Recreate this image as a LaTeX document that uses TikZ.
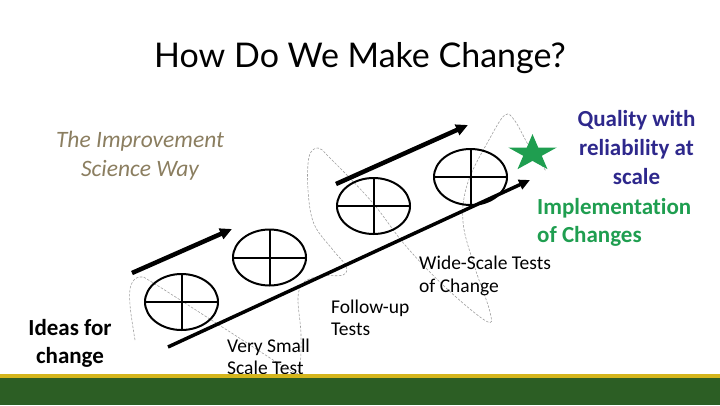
\documentclass[tikz,border=0pt]{standalone}
\usepackage{fontspec}
\setmainfont{Carlito}[Ligatures={NoCommon}]
\newfontfamily\titlefont{Lato}
\usetikzlibrary{shapes.geometric,arrows.meta}
\definecolor{quality}{RGB}{46,40,140}
\definecolor{implement}{RGB}{31,158,80}
\definecolor{taupe}{RGB}{139,126,96}
\definecolor{barGold}{RGB}{212,181,28}
\definecolor{barGreen}{RGB}{44,94,36}

\begin{document}
\begin{tikzpicture}[%
    x=1pt, y=-1pt,
    cycle/.style={%
        draw,
        ellipse,
        line width=2pt,
        minimum width=73pt,
        minimum height=56pt,
        inner sep=0pt,
        outer sep=0pt
    },
    crossline/.style={%
        line width=2pt
    },
    rampUpper/.style={%
        line width=4.5pt,
        -{Triangle[length=12pt,width=11pt]}
    },
    rampLower/.style={%
        line width=3.5pt,
        -{Triangle[length=11pt,width=10pt]}
    },
    lasso/.style={%
        draw=gray!75,
        line width=0.6pt,
        dash pattern=on 2.5pt off 1.5pt
    },
    smallText/.style={%
        font=\fontsize{19.5}{22}\selectfont,
        align=left,
        anchor=north west,
        inner sep=0pt
    },
    boldText/.style={%
        font=\fontsize{23}{28}\selectfont\bfseries,
        inner sep=0pt
    },
    goal/.style={%
        star,
        star points=5,
        star point ratio=2.618,
        fill=implement,
        minimum size=51pt,
        inner sep=0pt
    }
]
\useasboundingbox (0,0) rectangle (720,405);

% Title
    \node[font=\titlefont\fontsize{34}{40}\selectfont, anchor=base] (title) at (360,67) {How Do We Make Change?};
    \node[font=\fontsize{23.5}{29}\selectfont\itshape, text=taupe, align=center, anchor=north, inner sep=0pt] (way) at (140,131) {The Improvement\\Science Way};

% Freeform loop
    \draw[lasso] plot[smooth, tension=0.6] coordinates {(135,340) (130,305) (131,285) (140,277) (155,284) (230,332) (288,369) (299,370) (301,335) (298,298) (304,282) (322,276) (343,275) (346,266) (333,250) (314,224) (308,190) (309,157) (318,148) (330,158) (372,202) (405,245) (445,287) (486,321) (490,312) (475,268) (463,222) (468,182) (490,138) (505,115) (515,121) (530,148) (546,171)};

% PDSA cycles
    \node[cycle] (cycle1) at (181.5,302) {};
    \node[cycle] (cycle2) at (269.5,257.5) {};
    \node[cycle] (cycle3) at (373.5,206) {};
    \node[cycle] (cycle4) at (470.5,177) {};

% Ramps
    \coordinate (upperStart1) at (132,273);
    \coordinate (upperEnd1) at (232,229);
    \coordinate (upperStart2) at (336,184);
    \coordinate (upperEnd2) at (468,125);
    \coordinate (lowerStart) at (168,347);
    \coordinate (lowerEnd) at (530,180);

% Goal
    \begin{scope}[shift={(532.5,153.5)}, yscale=0.76]
        \node[goal, transform shape] (goalStar) at (0,0) {};
    \end{scope}

% Labels
    \node[boldText, align=center, anchor=north] (ideas) at (70,319) {Ideas for\\change};
    \node[smallText] (verySmall) at (227,338.5) {Very Small\\Scale Test};
    \node[smallText] (followUp) at (331,300) {Follow-up\\Tests};
    \node[smallText, font=\fontsize{19.5}{23.5}\selectfont] (wideScale) at (419,255.5) {Wide-Scale Tests\\of Change};
    \node[boldText, font=\fontsize{23}{29}\selectfont\bfseries, text=quality, align=center, anchor=north] (quality) at (636.5,110) {Quality with\\reliability at\\scale};
    \node[boldText, text=implement, align=left, anchor=north west] (implementation) at (537,198.5) {Implementation\\of Changes};

% Crosses
\draw[crossline] (cycle1.north) -- (cycle1.south);
\draw[crossline] (cycle1.west) -- (cycle1.east);
\draw[crossline] (cycle2.north) -- (cycle2.south);
\draw[crossline] (cycle2.west) -- (cycle2.east);
\draw[crossline] (cycle3.north) -- (cycle3.south);
\draw[crossline] (cycle3.west) -- (cycle3.east);
\draw[crossline] (cycle4.north) -- (cycle4.south);
\draw[crossline] (cycle4.west) -- (cycle4.east);

% Arrows
\draw[rampUpper] (upperStart1) -- (upperEnd1);
\draw[rampUpper] (upperStart2) -- (upperEnd2);
\draw[rampLower] (lowerStart) -- (lowerEnd);

% Footer bar
\fill[barGold] (0,374) rectangle (720,378);
\fill[barGreen] (0,378) rectangle (720,405);

\end{tikzpicture}
\end{document}
